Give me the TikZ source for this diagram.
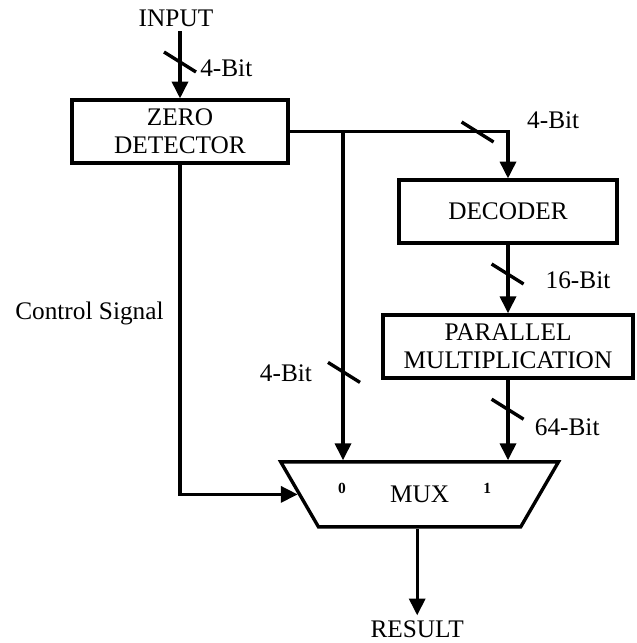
\documentclass[tikz,border=0pt]{standalone}
\usepackage{fontspec}
\setmainfont{Liberation Serif}
\usetikzlibrary{shapes.geometric, positioning, arrows.meta, calc}
\tikzset{
  block/.style={rectangle, draw=black, line width=2.4pt, minimum height=1.575cm, text centered, align=center, font=\fontsize{18}{20}\selectfont},
  muxbox/.style={trapezium, trapezium angle=64, shape border rotate=180, trapezium stretches=true, draw=black, line width=2.4pt, minimum width=6.975cm, minimum height=1.625cm, font=\fontsize{18}{20}\selectfont},
  lbl/.style={font=\fontsize{18}{20}\selectfont},
  sel/.style={font=\fontsize{11}{12}\selectfont\bfseries},
  wire/.style={line width=2.4pt},
  arrow/.style={line width=2.4pt, -{Triangle[length=4.2mm, width=4mm]}},
  slash/.pic={\draw[line width=2.4pt] (-0.4,0.25) -- (0.4,-0.25);}
}

\begin{document}
\begin{tikzpicture}
    \useasboundingbox (0,0) rectangle (15.9,-16.075);

    % Bloques
    \node[lbl] (input) at (4.4, -0.45) {INPUT};
    \node[block, minimum width=5.4cm] (zd) at (4.5, -3.29) {ZERO\\DETECTOR};
    \node[block, minimum width=5.45cm] (dec) at (12.7, -5.29) {DECODER};
    \node[block, minimum width=6.25cm] (pm) at (12.7, -8.66) {PARALLEL\\MULTIPLICATION};
    \node[muxbox] (mux) at (10.49, -12.36) {MUX};
    \node[sel] (sel0) at (8.55, -12.2) {0};
    \node[sel] (sel1) at (12.18, -12.2) {1};
    \node[lbl] (result) at (10.43, -15.72) {RESULT};

    % Conexiones
    \draw[arrow] (input.south -| zd.north) -- (zd.north);
    \draw[arrow] (zd.east) -| (dec.north);
    \coordinate (br) at (8.575, 0 |- zd.east);
    \draw[arrow] (br) -- (br |- mux.north);
    \draw[arrow] (dec.south) -- (pm.north);
    \draw[arrow] (pm.south) -- (pm.south |- mux.north);
    \draw[arrow] (zd.south) |- (mux.west);
    \draw[arrow] (mux.south -| result.north) -- (result.north);

    % Marcas de bus
    \pic at (4.5, -1.55) {slash};
    \pic at (11.94, -3.3) {slash};
    \pic at (12.69, -6.85) {slash};
    \pic at (12.69, -10.23) {slash};
    \pic at (8.6, -9.31) {slash};

    % Etiquetas
    \node[lbl, anchor=west, inner sep=0pt] (w0) at (5.0, -1.7) {4-Bit};
    \node[lbl] (w1) at (13.83, -3.0) {4-Bit};
    \node[lbl] (w2) at (14.45, -7.0) {16-Bit};
    \node[lbl] (w3) at (14.18, -10.68) {64-Bit};
    \node[lbl] (w4) at (7.15, -9.33) {4-Bit};
    \node[lbl, anchor=west, inner sep=0pt] (ctrl) at (0.375, -7.825) {Control Signal};

\end{tikzpicture}
\end{document}
